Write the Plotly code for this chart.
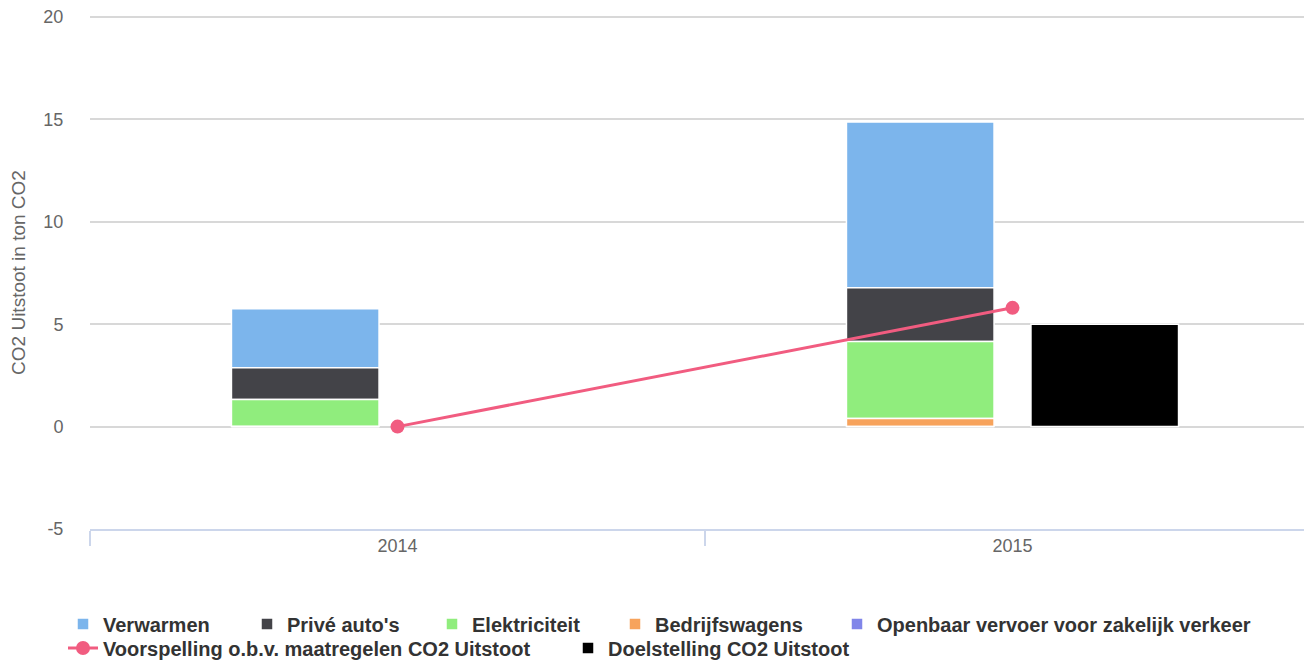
import plotly.graph_objects as go

################################
# Data

years = ["2014", "2015"]

verwarmen = [2.88, 8.1]
prive_autos = [1.56, 2.63]
elektriciteit = [1.32, 3.75]
bedrijfswagens = [0, 0.4]
openbaar_vervoer = [0, 0]
voorspelling = [0, 5.8]
doelstelling = [None, 5.0]

# stacked from the bottom up, the way the chart draws it
stack_series = [
    ("Openbaar vervoer voor zakelijk verkeer", openbaar_vervoer, "#8085e9"),
    ("Bedrijfswagens", bedrijfswagens, "#f7a35c"),
    ("Elektriciteit", elektriciteit, "#90ed7d"),
    ("Privé auto's", prive_autos, "#434348"),
    ("Verwarmen", verwarmen, "#7cb5ec"),
]
legend_order = ["Verwarmen", "Privé auto's", "Elektriciteit", "Bedrijfswagens",
                "Openbaar vervoer voor zakelijk verkeer"]

################################
# Layout helpers

W, H = 1304, 652          # page body has an 8px margin
PAGE_OFF = 8

# legend entry text start (page px) and row centre (page px), one legend per entry
legend_pos = [
    (103, 624), (287, 624), (472, 624), (655, 624), (877, 624),
    (103, 648), (608, 648),
]
legend_font = dict(size=20, color="#333333", family="Liberation Sans, Arial, sans-serif", weight="bold")


def legend_box(text_x, row_y):
    return dict(
        orientation="h",
        xref="container", yref="container",
        x=(text_x - 40 - PAGE_OFF) / W, xanchor="left",
        y=(H - (row_y - PAGE_OFF)) / H, yanchor="middle",
        font=legend_font,
        bgcolor="rgba(0,0,0,0)",
    )


legend_ids = ["legend"] + ["legend%d" % i for i in range(2, 8)]

################################
# Figure

figure = go.Figure()

bases = {}
running = [0.0] * len(years)
for name, values, color in stack_series:
    bases[name] = list(running)
    running = [r + v for r, v in zip(running, values)]

colors = {name: color for name, _, color in stack_series}
values_by_name = {name: values for name, values, _ in stack_series}

for i, name in enumerate(legend_order):
    figure.add_trace(go.Bar(
        x=years,
        y=values_by_name[name],
        base=bases[name],
        name=name,
        offset=-0.27,
        width=0.24,
        marker=dict(color=colors[name], line=dict(color="white", width=1.5)),
        legend=legend_ids[i],
    ))

figure.add_trace(go.Scatter(
    x=years,
    y=voorspelling,
    name="Voorspelling o.b.v. maatregelen CO2 Uitstoot",
    mode="lines+markers",
    line=dict(color="#f15c80", width=3),
    marker=dict(size=14, color="#f15c80"),
    legend=legend_ids[5],
))

figure.add_trace(go.Bar(
    x=years,
    y=doelstelling,
    name="Doelstelling CO2 Uitstoot",
    offset=0.03,
    width=0.24,
    marker=dict(color="#000000", line=dict(color="white", width=1.5)),
    legend=legend_ids[6],
))

legends = {lid: legend_box(tx, ty) for lid, (tx, ty) in zip(legend_ids, legend_pos)}

figure.update_layout(
    width=W,
    height=H,
    barmode="overlay",
    plot_bgcolor="white",
    paper_bgcolor="white",
    font=dict(family="Liberation Sans, Arial, sans-serif", color="#666666", size=18),
    margin=dict(l=82, r=0, t=8, b=131, autoexpand=False),
    showlegend=True,
    xaxis=dict(
        type="category",
        range=[-0.5, 1.487],
        automargin=False,
        showgrid=False,
        showline=True,
        linecolor="#ccd6eb",
        linewidth=1.5,
        ticks="outside",
        tickson="boundaries",
        ticklen=15,
        tickcolor="#ccd6eb",
        tickwidth=1.5,
        tickfont=dict(size=18, color="#666666"),
        fixedrange=True,
    ),
    yaxis=dict(
        range=[-5, 20.05],
        tickvals=[-5, 0, 5, 10, 15, 20],
        ticktext=["-5", "0", "5", "10", "15", "20"],
        automargin=False,
        ticklabeloverflow="allow",
        showgrid=True,
        gridcolor="#d8d8d8",
        gridwidth=1.5,
        zeroline=False,
        showline=False,
        ticks="outside",
        ticklen=22,
        tickcolor="rgba(0,0,0,0)",
        tickfont=dict(size=18, color="#666666"),
        title=dict(text="CO2 Uitstoot in ton CO2", font=dict(size=19, color="#666666"), standoff=12),
        fixedrange=True,
    ),
    **legends,
)

figure.write_html("out.html")
